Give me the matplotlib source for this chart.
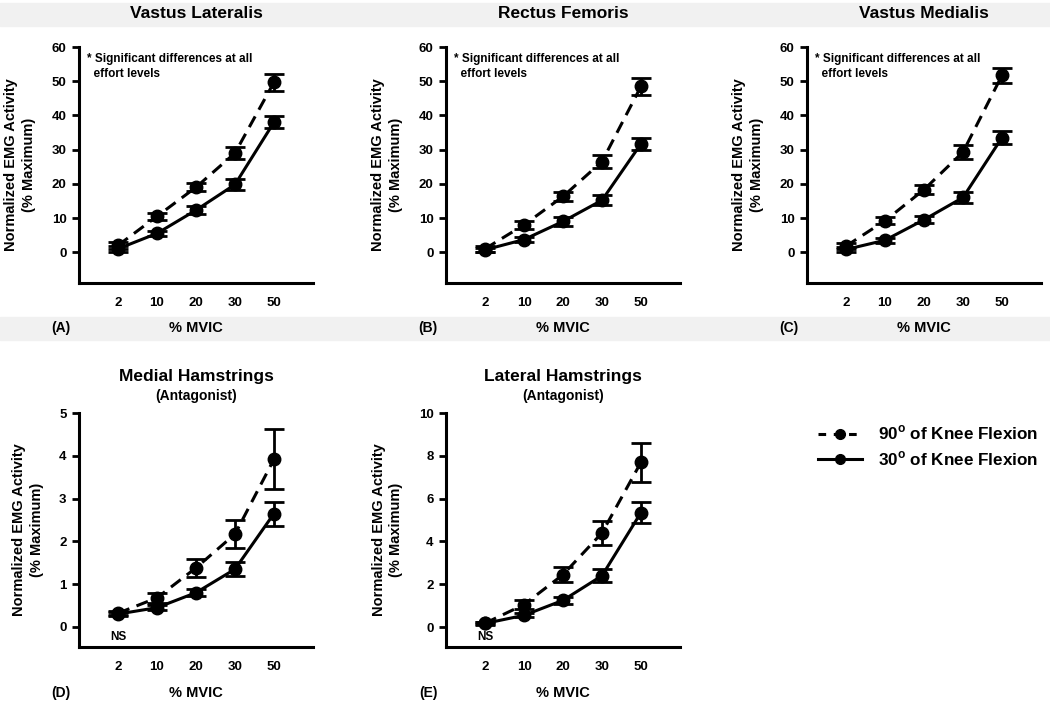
import numpy as np
import matplotlib.pyplot as plt
from matplotlib.patches import Rectangle
from matplotlib.lines import Line2D

plt.rcParams['font.family'] = ['Liberation Sans', 'DejaVu Sans']
plt.rcParams['font.weight'] = 'bold'

efforts = ['2', '10', '20', '30', '50']

# Vastus Lateralis
vl_90 = [2.0, 10.5, 19.0, 29.0, 49.7]
vl_90_err = [1.0, 1.0, 1.2, 1.8, 2.5]
vl_30 = [1.0, 5.5, 12.3, 19.8, 38.0]
vl_30_err = [0.8, 0.8, 1.2, 1.5, 1.8]

# Rectus Femoris
rf_90 = [1.0, 8.0, 16.3, 26.5, 48.5]
rf_90_err = [0.8, 1.2, 1.3, 1.8, 2.5]
rf_30 = [0.7, 3.7, 9.0, 15.2, 31.7]
rf_30_err = [0.6, 0.8, 1.2, 1.5, 1.8]

# Vastus Medialis
vm_90 = [1.8, 9.2, 18.3, 29.3, 51.7]
vm_90_err = [1.0, 1.0, 1.3, 2.0, 2.2]
vm_30 = [0.8, 3.5, 9.5, 16.0, 33.5]
vm_30_err = [0.6, 0.7, 1.0, 1.6, 2.0]

# Medial Hamstrings
mh_90 = [0.32, 0.68, 1.38, 2.17, 3.92]
mh_90_err = [0.05, 0.12, 0.21, 0.33, 0.70]
mh_30 = [0.30, 0.45, 0.80, 1.35, 2.65]
mh_30_err = [0.04, 0.06, 0.08, 0.16, 0.28]

# Lateral Hamstrings
lh_90 = [0.18, 1.05, 2.45, 4.40, 7.70]
lh_90_err = [0.05, 0.20, 0.35, 0.55, 0.90]
lh_30 = [0.17, 0.55, 1.25, 2.40, 5.35]
lh_30_err = [0.05, 0.10, 0.15, 0.30, 0.50]

W, H = 1050, 709
fig = plt.figure(figsize=(W / 100, H / 100), dpi=100)
fig.patch.set_facecolor('white')

# light gray bands behind the titles and the bottom label rows
for y0, y1 in [(3, 26), (317, 340)]:
    fig.add_artist(Rectangle((0, 1 - y1 / H), 1, (y1 - y0) / H,
                             transform=fig.transFigure, color='#f1f1f1', zorder=0))


def make_axes(x0, x1, y0, y1):
    return fig.add_axes([x0 / W, 1 - y1 / H, (x1 - x0) / W, (y1 - y0) / H])


def draw_panel(ax, s90, e90, s30, e30, ylim, yticks):
    x = np.arange(len(efforts))
    ax.errorbar(x, s90, yerr=e90, color='black', lw=2.2, ls=(0, (4, 2.5)),
                marker='o', ms=9, capsize=7, capthick=2, elinewidth=2)
    ax.errorbar(x, s30, yerr=e30, color='black', lw=2.2, ls='-',
                marker='o', ms=9, capsize=7, capthick=2, elinewidth=2)
    ax.set_xlim(-1, 5)
    ax.set_ylim(*ylim)
    ax.set_xticks(x)
    ax.set_xticklabels(efforts)
    ax.set_yticks(yticks)
    ax.spines['top'].set_visible(False)
    ax.spines['right'].set_visible(False)
    ax.spines['left'].set_linewidth(2.2)
    ax.spines['bottom'].set_linewidth(2.2)
    ax.tick_params(axis='y', direction='out', length=5, width=2, labelsize=9.5, pad=4)
    ax.tick_params(axis='x', length=0, labelsize=9.5, pad=10)
    for lab in ax.get_xticklabels() + ax.get_yticklabels():
        lab.set_fontweight('bold')
    ax.set_facecolor('none')
    ax.set_ylabel('Normalized EMG Activity\n(% Maximum)', fontsize=10.5,
                  fontweight='bold', labelpad=11, linespacing=1.35)


top_panels = [
    (79, 313, 'Vastus Lateralis', '(A)', vl_90, vl_90_err, vl_30, vl_30_err),
    (446, 680, 'Rectus Femoris', '(B)', rf_90, rf_90_err, rf_30, rf_30_err),
    (807, 1041, 'Vastus Medialis', '(C)', vm_90, vm_90_err, vm_30, vm_30_err),
]
for x0, x1, title, tag, a, ae, b, be in top_panels:
    ax = make_axes(x0, x1, 47, 283)
    draw_panel(ax, a, ae, b, be, (-9, 60), np.arange(0, 61, 10))
    ax.text(0.035, 0.975, '* Significant differences at all\n  effort levels',
            transform=ax.transAxes, fontsize=8.5, fontweight='bold',
            va='top', ha='left', linespacing=1.3)
    cx = (x0 + x1) / 2 / W
    fig.text(cx, 1 - 14 / H, title, ha='center', va='center', fontsize=12.5, fontweight='bold')
    fig.text(cx, 1 - 328 / H, '% MVIC', ha='center', va='center', fontsize=10.5, fontweight='bold')
    fig.text((x0 - 18) / W, 1 - 328 / H, tag, ha='center', va='center', fontsize=10, fontweight='bold')

bottom_panels = [
    (79, 313, 'Medial Hamstrings', '(D)', mh_90, mh_90_err, mh_30, mh_30_err,
     (-0.47, 5), np.arange(0, 6, 1), -0.23),
    (446, 680, 'Lateral Hamstrings', '(E)', lh_90, lh_90_err, lh_30, lh_30_err,
     (-0.93, 10), np.arange(0, 11, 2), -0.45),
]
for x0, x1, title, tag, a, ae, b, be, ylim, yt, ns_y in bottom_panels:
    ax = make_axes(x0, x1, 413, 647)
    draw_panel(ax, a, ae, b, be, ylim, yt)
    ax.text(0, ns_y, 'NS', ha='center', va='center', fontsize=8.5, fontweight='bold')
    cx = (x0 + x1) / 2 / W
    fig.text(cx, 1 - 377 / H, title, ha='center', va='center', fontsize=12.5, fontweight='bold')
    fig.text(cx, 1 - 396 / H, '(Antagonist)', ha='center', va='center', fontsize=10, fontweight='bold')
    fig.text(cx, 1 - 693 / H, '% MVIC', ha='center', va='center', fontsize=10.5, fontweight='bold')
    fig.text((x0 - 18) / W, 1 - 693 / H, tag, ha='center', va='center', fontsize=10, fontweight='bold')

handles = [
    Line2D([], [], color='black', lw=2.2, ls=(0, (2.5, 2.5)), marker='o', ms=7),
    Line2D([], [], color='black', lw=2.2, ls='-', marker='o', ms=7),
]
fig.legend(handles, ['90$^{\\mathregular{o}}$ of Knee Flexion', '30$^{\\mathregular{o}}$ of Knee Flexion'],
           loc='center left', bbox_to_anchor=(818 / W, 1 - 446 / H), frameon=False,
           prop={'size': 12.3, 'weight': 'bold'}, handlelength=2.6, labelspacing=0.4,
           handletextpad=0.9, borderpad=0, borderaxespad=0)

fig.savefig('out.png', dpi=100)
